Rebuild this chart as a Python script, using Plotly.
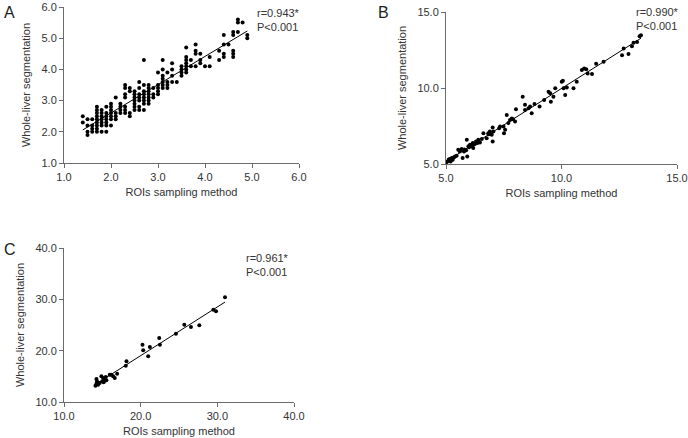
import numpy as np
import plotly.graph_objects as go

# ---------------- Data ----------------
# Panel A
a_x = [1.4, 1.4,
       1.5, 1.5, 1.5, 1.5,
       1.6, 1.6, 1.6, 1.6,
       1.7, 1.7, 1.7, 1.7, 1.7, 1.7, 1.7, 1.7, 1.7,
       1.8, 1.8, 1.8, 1.8, 1.8, 1.8, 1.8,
       1.9, 1.9, 1.9, 1.9, 1.9, 1.9, 1.9,
       2.0, 2.0, 2.0, 2.0, 2.0, 2.0, 2.0,
       2.1, 2.1, 2.1, 2.1,
       2.2, 2.2, 2.2, 2.2,
       2.3, 2.3, 2.3, 2.3, 2.3, 2.3, 2.3,
       2.4, 2.4, 2.4, 2.4,
       2.5, 2.5, 2.5, 2.5, 2.5, 2.5, 2.5,
       2.6, 2.6, 2.6, 2.6, 2.6, 2.6, 2.6,
       2.7, 2.7, 2.7, 2.7, 2.7, 2.7, 2.7, 2.7,
       2.8, 2.8, 2.8, 2.8, 2.8, 2.8, 2.8,
       2.9, 2.9, 2.9,
       3.0, 3.0, 3.0, 3.0, 3.0,
       3.1, 3.1, 3.1, 3.1, 3.1, 3.1, 3.1,
       3.2, 3.2, 3.2, 3.2,
       3.3, 3.3, 3.3, 3.3,
       3.4,
       3.5, 3.5, 3.5, 3.5,
       3.6, 3.6, 3.6, 3.6, 3.6, 3.6, 3.6,
       3.7, 3.7,
       3.8, 3.8, 3.8, 3.8,
       3.9, 3.9, 3.9,
       4.0,
       4.1, 4.1,
       4.3, 4.3,
       4.4, 4.4, 4.4, 4.4,
       4.5,
       4.6, 4.6, 4.6, 4.6, 4.6,
       4.7, 4.7, 4.7,
       4.8,
       4.9, 4.9]
a_y = [2.5, 2.3,
       2.4, 2.2, 2.0, 1.9,
       2.4, 2.2, 2.1, 2.0,
       2.8, 2.7, 2.6, 2.5, 2.4, 2.3, 2.2, 2.1, 2.0,
       2.7, 2.6, 2.5, 2.4, 2.3, 2.2, 2.0,
       2.8, 2.6, 2.5, 2.4, 2.3, 2.2, 2.0,
       2.9, 2.8, 2.7, 2.6, 2.5, 2.4, 2.2,
       3.1, 2.6, 2.5, 2.4,
       2.9, 2.8, 2.7, 2.6,
       3.5, 3.4, 3.2, 3.1, 2.8, 2.7, 2.6,
       3.4, 3.3, 2.6, 2.5,
       3.3, 3.2, 3.1, 3.0, 2.9, 2.8, 2.7,
       3.6, 3.4, 3.2, 3.1, 3.0, 2.8, 2.7,
       4.3, 3.5, 3.3, 3.2, 3.1, 3.0, 2.9, 2.7,
       3.5, 3.4, 3.3, 3.2, 3.1, 3.0, 2.9,
       3.4, 3.2, 3.1,
       3.9, 3.5, 3.4, 3.3, 3.2,
       4.3, 4.0, 3.8, 3.7, 3.6, 3.5, 3.4,
       3.9, 3.6, 3.5, 3.4,
       4.2, 4.0, 3.8, 3.6,
       3.6,
       4.1, 4.0, 3.9, 3.8,
       4.7, 4.4, 4.3, 4.2, 4.1, 4.0, 3.9,
       4.3, 4.1,
       4.8, 4.6, 4.5, 4.1,
       4.5, 4.3, 4.2,
       4.1,
       4.4, 4.1,
       4.6, 4.3,
       5.1, 4.8, 4.5, 4.4,
       4.8,
       5.2, 5.1, 4.6, 4.5, 4.4,
       5.6, 5.5, 5.2,
       5.5,
       5.1, 5.0]

# Panel B
b_x = [5.03, 5.10, 5.17, 5.20, 5.25, 5.29, 5.39, 5.46, 5.53, 5.60, 5.68, 5.72,
       5.78, 5.87, 5.90, 5.92, 5.97, 6.04, 6.11, 6.16, 6.18, 6.26, 6.30, 6.36,
       6.40, 6.47, 6.62, 6.76, 6.83, 6.90, 6.98, 7.02, 7.05, 7.02, 7.34, 7.49,
       7.51, 7.56, 7.63, 7.70, 7.77, 7.85, 7.99, 8.03, 8.32, 8.42, 8.42, 8.57,
       8.64, 8.71, 8.83, 9.05, 9.25, 9.44, 9.51, 9.54, 9.65, 9.73, 10.01, 10.06,
       10.09, 10.16, 10.23, 10.52, 10.66, 10.88, 10.98, 11.07, 11.13, 11.32, 11.50,
       11.82, 12.62, 12.69, 12.90, 13.05, 13.12, 13.27, 13.38, 13.44,
       5.12, 5.35, 5.80, 6.00, 6.22, 6.55, 6.85, 7.30, 7.90]
b_y = [5.13, 5.20, 5.33, 5.17, 5.40, 5.28, 5.50, 5.55, 5.94, 5.83, 5.98, 5.40,
       5.83, 5.90, 6.60, 5.50, 6.16, 6.27, 6.16, 6.38, 6.05, 6.33, 6.48, 6.38,
       6.60, 6.42, 7.03, 6.70, 7.03, 7.14, 6.92, 7.40, 7.14, 6.48, 7.47, 7.47,
       7.03, 7.25, 8.23, 7.69, 7.90, 8.00, 7.80, 8.60, 9.43, 8.89, 8.56, 8.67,
       8.78, 8.34, 8.95, 8.78, 9.21, 9.76, 9.65, 9.10, 9.43, 9.98, 10.41, 10.48,
       9.98, 9.54, 10.04, 9.98, 10.41, 11.18, 11.29, 11.24, 10.96, 10.92, 11.60,
       11.72, 12.16, 12.60, 12.23, 12.75, 12.97, 13.03, 13.41, 13.47,
       5.30, 5.45, 5.95, 6.10, 6.30, 6.65, 6.95, 7.35, 7.95]

# Panel C
c_x = [14.10, 14.23, 14.31, 14.23, 14.44, 14.66, 14.88, 15.01, 15.10, 15.18,
       15.32, 15.45, 15.53, 15.97, 16.19, 16.41, 16.62, 16.93, 18.06, 18.15,
       20.24, 20.33, 20.98, 21.20, 22.42, 22.51, 24.60, 25.69, 26.56, 27.65,
       29.48, 29.83, 31.00]
c_y = [13.18, 13.57, 14.03, 14.48, 13.38, 13.70, 15.00, 14.03, 14.68, 13.83,
       14.35, 14.87, 14.22, 15.32, 15.32, 15.00, 14.68, 15.52, 17.08, 17.92,
       21.17, 20.06, 18.90, 20.71, 22.47, 21.17, 23.31, 25.06, 24.61, 24.94,
       27.99, 27.66, 30.39]

panel_labels = ["A", "B", "C"]
stats_text = ["r=0.943*<br>P<0.001", "r=0.990*<br>P<0.001", "r=0.961*<br>P<0.001"]
x_title = "ROIs sampling method"
y_title = "Whole-liver segmentation"

# ---------------- Figure ----------------
W, H = 688, 438
FONT = "Liberation Sans, Arial, sans-serif"
AXC = "#6b6b6b"
TXT = "#333333"

def px_x(p):
    return p / W

def px_y(p):
    return 1 - p / H

fig = go.Figure()

panels = [
    dict(x=a_x, y=a_y, xr=[1, 6], yr=[1, 6], dt=1, xd=[64, 299], yd=[7, 163]),
    dict(x=b_x, y=b_y, xr=[5, 15], yr=[5, 15], dt=5, xd=[446, 677], yd=[12, 164]),
    dict(x=c_x, y=c_y, xr=[10, 40], yr=[10, 40], dt=10, xd=[64, 294], yd=[248, 402]),
]

for i, p in enumerate(panels):
    n = "" if i == 0 else str(i + 1)
    xa, ya = "x" + n, "y" + n
    fig.add_trace(go.Scatter(x=p["x"], y=p["y"], mode="markers", xaxis=xa, yaxis=ya,
                             marker=dict(color="black", size=4), showlegend=False))
    xs = np.array(p["x"], dtype=float)
    ys = np.array(p["y"], dtype=float)
    k, b = np.polyfit(xs, ys, 1)
    lx = np.array([xs.min(), xs.max()])
    fig.add_trace(go.Scatter(x=lx, y=k * lx + b, mode="lines", xaxis=xa, yaxis=ya,
                             line=dict(color="black", width=1), showlegend=False))
    common = dict(showline=True, linecolor=AXC, linewidth=1, ticks="outside",
                  ticklen=4, tickcolor=AXC, tickwidth=1, showgrid=False, zeroline=False,
                  tickformat=".1f", dtick=p["dt"], tick0=p["xr"][0],
                  tickfont=dict(family=FONT, size=11, color=TXT), automargin=False)
    fig.update_layout(**{
        "xaxis" + n: dict(common, range=p["xr"], domain=[px_x(p["xd"][0]), px_x(p["xd"][1])],
                          anchor=ya,
                          title=dict(text=x_title, font=dict(family=FONT, size=11, color=TXT), standoff=6)),
        "yaxis" + n: dict(common, range=p["yr"], domain=[px_y(p["yd"][1]), px_y(p["yd"][0])],
                          anchor=xa, tick0=p["yr"][0],
                          title=dict(text=y_title, font=dict(family=FONT, size=11, color=TXT), standoff=8)),
    })

# panel letters
letter_pos = [(2, 12), (376, 12), (2, 249)]
for lab, (lx_, ly_) in zip(panel_labels, letter_pos):
    fig.add_annotation(text=lab, x=px_x(lx_), y=px_y(ly_), xref="paper", yref="paper",
                       xanchor="left", yanchor="middle", showarrow=False,
                       font=dict(family=FONT, size=16, color="#222222"))

stat_pos = [(255, 20), (634, 19), (244, 265)]
for t, (sx, sy) in zip(stats_text, stat_pos):
    fig.add_annotation(text=t, x=px_x(sx), y=px_y(sy), xref="paper", yref="paper",
                       xanchor="left", yanchor="middle", align="left", showarrow=False,
                       font=dict(family=FONT, size=11, color=TXT))

fig.update_layout(width=W, height=H, margin=dict(l=0, r=0, t=0, b=0),
                  paper_bgcolor="white", plot_bgcolor="white")

fig.write_html("out.html", config={"displayModeBar": False},
               post_script="document.body.style.margin='0';")
